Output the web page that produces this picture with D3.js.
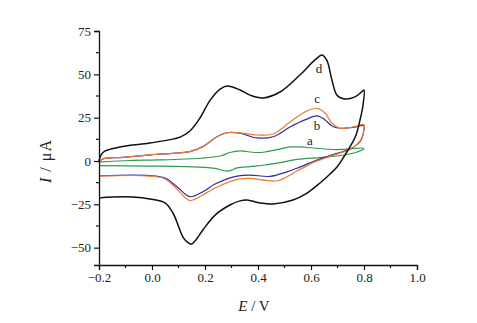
<!DOCTYPE html>
<html>
<head>
<meta charset="utf-8">
<script src="https://cdn.jsdelivr.net/npm/d3@7"></script>
<style>
  body { margin: 0; background: #fff; }
  text { font-family: "Liberation Serif", "DejaVu Serif", serif; fill: #222; }
</style>
</head>
<body>
<div id="chart"></div>
<script>
// potential (V) and current (uA), forward sweep then reverse sweep
const curveA_E = [-0.2, -0.083, 0.019, 0.181, 0.257, 0.294, 0.332, 0.389, 0.426, 0.483, 0.521, 0.558, 0.608, 0.698, 0.8,
                  0.774, 0.698, 0.634, 0.547, 0.483, 0.426, 0.370, 0.321, 0.287, 0.238, 0.181, -0.008, -0.2];
const curveA_I = [-0.6, 0.3, 0.6, 1.6, 2.9, 4.9, 5.8, 4.9, 5.2, 6.9, 8.1, 8.1, 7.5, 6.6, 7.3,
                  5.2, 2.9, 2.0, 0.9, -0.9, -2.3, -3.2, -4.0, -5.8, -4.3, -3.5, -2.9, -2.7];

const curveB_E = [-0.2, -0.185, -0.109, 0.019, 0.143, 0.192, 0.245, 0.283, 0.332, 0.396, 0.457, 0.521, 0.577, 0.623, 0.653, 0.679, 0.709, 0.758, 0.8,
                  0.8, 0.785, 0.747, 0.698, 0.623, 0.558, 0.509, 0.445, 0.370, 0.321, 0.238, 0.192, 0.143, 0.094, 0.049, -0.008, -0.2];
const curveB_I = [-0.6, 1.2, 2.1, 3.9, 5.4, 8.3, 14, 16.3, 16, 13.3, 14, 19.6, 23.7, 26, 23.7, 20.2, 18.9, 19.4, 20.4,
                  18, 11.1, 6.9, 4.4, 0.6, -3.5, -6.3, -8.9, -8.1, -8.7, -13.3, -17.7, -20.6, -14.8, -9.8, -8.4, -8.5];

const curveC_E = [-0.2, -0.185, -0.109, 0.019, 0.143, 0.192, 0.245, 0.283, 0.332, 0.396, 0.457, 0.521, 0.577, 0.623, 0.653, 0.679, 0.709, 0.758, 0.8,
                  0.8, 0.792, 0.747, 0.698, 0.623, 0.547, 0.472, 0.370, 0.321, 0.238, 0.192, 0.143, 0.094, 0.049, -0.008, -0.2];
const curveC_I = [-0.6, 1.2, 2.1, 3.9, 5.4, 8.3, 14, 16.3, 16.2, 15, 15.6, 22.5, 28.3, 30.4, 27.7, 21.8, 19, 19.6, 21,
                  18.5, 13.3, 6.6, 4, 0, -5.8, -11.4, -10, -10.6, -15.6, -19.6, -22.8, -16.2, -10.4, -8.7, -8.7];

const curveD_E = [-0.2, -0.192, -0.177, -0.121, -0.008, 0.106, 0.143, 0.181, 0.219, 0.257, 0.283, 0.332, 0.370, 0.419, 0.483, 0.558, 0.615, 0.642, 0.66, 0.679, 0.698, 0.728, 0.766, 0.792, 0.8,
                  0.796, 0.785, 0.770, 0.747, 0.721, 0.698, 0.672, 0.634, 0.585, 0.532, 0.457, 0.408, 0.358, 0.332, 0.294, 0.238, 0.192, 0.162, 0.148, 0.132, 0.117, 0.079, 0.049, -0.008, -0.072, -0.147, -0.2];
const curveD_I = [0, 3.5, 5.8, 8.1, 10.4, 13.8, 17.3, 24.8, 35, 41.5, 43.3, 41, 38, 36.4, 39.8, 49.6, 58.3, 61.2, 58, 46.7, 38, 35.8, 37, 40, 41,
                  32, 23.7, 15, 8.1, 1.7, -3.5, -7.5, -12.7, -18.5, -22.5, -24.8, -24.2, -22.5, -23, -25.4, -31.2, -39.8, -46.2, -48, -46.7, -43.9, -30, -24.2, -21.9, -20.8, -20.8, -21.3];

const seriesNames = ["a", "b", "c", "d"];
const labelE = [0.596, 0.623, 0.623, 0.630];
const labelI = [9.2, 17.9, 33.5, 50.8];

const xTicks = [-0.2, 0.0, 0.2, 0.4, 0.6, 0.8, 1.0];
const yTicks = [-50, -25, 0, 25, 50, 75];

const W = 477, H = 323;
const svg = d3.select("#chart").append("svg")
    .attr("width", W)
    .attr("height", H);

const x = d3.scaleLinear().domain([-0.2, 1.0]).range([99, 417]);
const y = d3.scaleLinear().domain([-60, 75]).range([265, 31]);

const series = [
    { name: "a", E: curveA_E, I: curveA_I, color: "#2e9a4e", width: 1.2 },
    { name: "b", E: curveB_E, I: curveB_I, color: "#2c2f9c", width: 1.2 },
    { name: "c", E: curveC_E, I: curveC_I, color: "#ee7a30", width: 1.2 },
    { name: "d", E: curveD_E, I: curveD_I, color: "#111111", width: 1.5 }
];

const line = d3.line()
    .x(d => x(d[0]))
    .y(d => y(d[1]))
    .curve(d3.curveCatmullRom.alpha(0.5));

svg.append("g")
    .selectAll("path")
    .data(series)
    .enter()
    .append("path")
    .attr("fill", "none")
    .attr("stroke", d => d.color)
    .attr("stroke-width", d => d.width)
    .attr("stroke-linejoin", "round")
    .attr("d", d => line(d.E.map((e, i) => [e, d.I[i]])));

// curve letters
svg.append("g")
    .selectAll("text")
    .data(seriesNames)
    .enter()
    .append("text")
    .attr("x", (d, i) => x(labelE[i]))
    .attr("y", (d, i) => y(labelI[i]))
    .attr("text-anchor", "middle")
    .style("font-size", "13px")
    .text(d => d);

// axes
const xAxis = svg.append("g")
    .attr("transform", "translate(0," + y(-60) + ")")
    .call(d3.axisBottom(x).tickValues(xTicks).tickFormat(d3.format(".1f")).tickSize(5).tickPadding(3));
const yAxis = svg.append("g")
    .attr("transform", "translate(" + x(-0.2) + ",0)")
    .call(d3.axisLeft(y).tickValues(yTicks).tickSize(5).tickPadding(3));

// minor ticks
const xMinor = d3.range(-0.1, 1.0, 0.2);
svg.append("g").selectAll("line")
    .data(xMinor)
    .enter().append("line")
    .attr("x1", d => x(d)).attr("x2", d => x(d))
    .attr("y1", y(-60)).attr("y2", y(-60) + 3)
    .attr("stroke", "#111").attr("stroke-width", 1.2);
const yMinor = [-37.5, -12.5, 12.5, 37.5, 62.5];
svg.append("g").selectAll("line")
    .data(yMinor)
    .enter().append("line")
    .attr("y1", d => y(d)).attr("y2", d => y(d))
    .attr("x1", x(-0.2)).attr("x2", x(-0.2) - 3)
    .attr("stroke", "#111").attr("stroke-width", 1.2);

[xAxis, yAxis].forEach(g => {
    g.select(".domain").attr("stroke", "#111").attr("stroke-width", 1.3);
    g.selectAll(".tick line").attr("stroke", "#111").attr("stroke-width", 1.2);
    g.selectAll(".tick text")
        .style("font-family", "'Liberation Serif', serif")
        .style("font-size", "13px")
        .attr("fill", "#222");
});

// axis titles
const xTitle = svg.append("text")
    .attr("x", 254)
    .attr("y", 311)
    .attr("text-anchor", "middle")
    .style("font-size", "15px");
xTitle.append("tspan").style("font-style", "italic").text("E");
xTitle.append("tspan").text(" / V");

const yTitle = svg.append("text")
    .attr("transform", "translate(51,161) rotate(-90)")
    .attr("text-anchor", "middle")
    .style("font-size", "16px")
    .style("letter-spacing", "1px");
yTitle.append("tspan").style("font-style", "italic").text("I");
yTitle.append("tspan").text(" / μA");
</script>
</body>
</html>
